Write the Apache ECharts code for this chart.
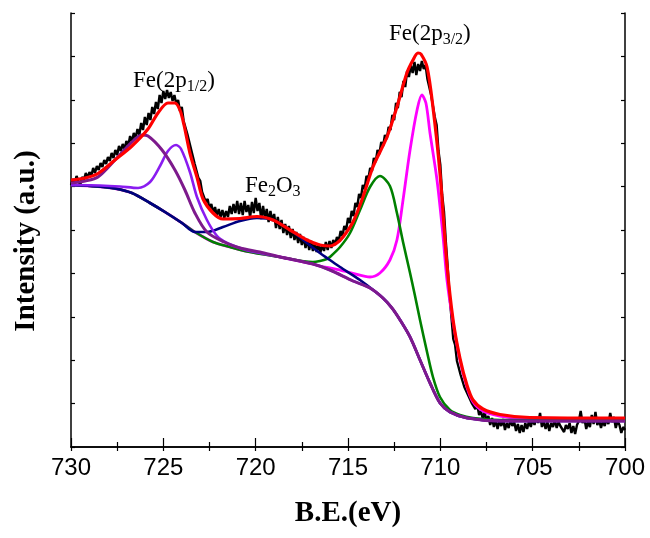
<!DOCTYPE html>
<html><head><meta charset="utf-8">
<script src="https://cdn.jsdelivr.net/npm/echarts/dist/echarts.min.js"></script>
<style>html,body{margin:0;padding:0;background:#fff}#c{width:650px;height:538px}</style>
</head><body><div id="c"></div>
<script>
// Binding energy (eV) vs intensity (a.u.)
const xTickLabels = [730, 725, 720, 715, 710, 705, 700];

// Shirley background
const background = [[730,262],[728.54,260.5],[727.62,258.5],[726.70,254],[725.72,244],[724.91,235],[723.99,224],[723.29,215],[722.31,205],[721.39,200],[720.47,195.5],[718.68,190],[716.90,183],[715.98,177],[714.73,166],[713.81,159],[713.11,149],[712.62,139],[712.18,127],[711.64,110],[711.10,87],[710.56,64],[710.02,44],[709.48,35],[708.56,29],[706.77,26],[700,26]];

// Fe 2p1/2 component 1 (purple)
const p12a = [[730,264],[729.24,266],[728.54,270],[727.62,287],[726.70,305],[726.16,312],[725.83,311],[725.07,297],[724.37,277],[723.83,257],[723.29,234],[722.64,215],[721.71,205],[720.85,199],[719.77,195]];
// Fe 2p1/2 component 2 (violet)
const p12b = [[730,262],[728.43,261.5],[727.35,260.5],[726.37,259],[725.72,265],[725.18,281],[724.75,296],[724.31,302],[724.04,298],[723.56,275],[723.18,250],[722.64,227],[722.09,211],[721.55,204],[721.01,200],[720.31,196]];
// Fe2O3 satellite (navy)
const sat = [[723.29,215],[722.64,215],[721.77,220],[720.85,226],[719.93,229],[719.06,227],[718.14,217],[717.22,204],[716.52,194],[715.98,187],[715.43,180],[714.35,167],[713.11,149]];
// Fe 2p3/2 component 2 (green)
const p32b = [[716.90,185],[716.52,186],[716.14,188],[715.98,190],[715.43,200],[714.89,214],[714.35,237],[713.81,260],[713.27,271],[712.73,261],[712.35,234],[712.02,205],[711.64,174],[711.37,151],[711.10,127],[710.72,95],[710.40,70],[710.02,50],[709.48,37],[708.94,32],[708.23,29],[706.77,27],[700,27]];
// Fe 2p3/2 component 1 (magenta)
const p32a = [[716.52,181],[715.61,177.7],[714.73,173.7],[713.81,170],[713.27,174],[712.73,187],[712.35,207],[712.02,247],[711.64,297],[711.26,337],[711.00,352],[710.78,344],[710.56,314],[710.18,267],[709.86,212],[709.64,167],[709.31,125],[708.94,87],[708.56,60],[708.23,45],[707.69,36],[706.77,31],[705.69,29],[700,28.5]];
// Fitted envelope (red)
const envelope = [[730,267],[729.24,269],[728.54,273.5],[727.62,287],[726.70,301],[725.83,318],[725.29,334],[724.75,344],[724.37,344],[724.10,337],[723.88,322],[723.56,294],[723.18,270],[722.85,248],[722.31,234],[721.77,228],[720.85,228.5],[719.93,230.5],[719.06,227],[718.14,217],[717.22,207],[716.52,202],[715.98,201],[715.60,204],[715.27,210],[714.73,225],[714.19,250],[713.65,280],[712.89,310],[712.35,340],[711.81,374],[711.48,387],[711.21,394],[711.05,393],[710.72,380],[710.40,340],[710.02,274],[709.64,182],[709.31,127],[708.94,89],[708.56,62],[708.23,47],[707.69,38],[706.77,32.5],[705.15,29.5],[700,29]];
// Measured spectrum (black)
const measured = [[730.0,262],[729.9,268],[729.8,264],[729.7,271],[729.6,266],[729.5,262],[729.4,270],[729.3,267],[729.2,274],[729.1,269],[729.0,275],[728.9,271],[728.8,279],[728.7,274],[728.6,281],[728.5,277],[728.4,284],[728.3,280],[728.2,287],[728.1,283],[728.0,290],[727.9,286],[727.8,294],[727.7,289],[727.6,297],[727.5,292],[727.4,301],[727.3,296],[727.2,303],[727.1,298],[727.0,306],[726.9,301],[726.8,311],[726.7,305],[726.6,314],[726.5,309],[726.4,318],[726.3,312],[726.2,324],[726.1,317],[726.0,330],[725.9,322],[725.8,334],[725.7,327],[725.6,340],[725.5,333],[725.4,345],[725.3,338],[725.2,352],[725.1,344],[725.0,356],[724.9,348],[724.8,357],[724.7,349],[724.6,355],[724.5,346],[724.4,352],[724.3,343],[724.2,347],[724.1,336],[724.0,340],[723.9,326],[723.8,328],[723.7,313],[723.6,312],[723.5,298],[723.4,296],[723.3,283],[723.2,282],[723.1,269],[723.0,266],[722.9,255],[722.8,254],[722.7,245],[722.6,248],[722.5,238],[722.4,243],[722.3,234],[722.2,240],[722.1,231],[722.0,238],[721.9,230],[721.8,237],[721.7,229],[721.6,236],[721.5,230],[721.4,241],[721.3,233],[721.2,243],[721.1,234],[721.0,246],[720.9,233],[720.8,244],[720.7,232],[720.6,246],[720.5,235],[720.4,242],[720.3,230],[720.2,245],[720.1,234],[720.0,249],[719.9,236],[719.8,244],[719.7,228],[719.6,241],[719.5,229],[719.4,238],[719.3,225],[719.2,236],[719.1,226],[719.0,233],[718.9,219],[718.8,230],[718.7,218],[718.6,227],[718.5,214],[718.4,223],[718.3,212],[718.2,221],[718.1,209],[718.0,218],[717.9,207],[717.8,215],[717.7,204],[717.6,213],[717.5,202],[717.4,210],[717.3,199],[717.2,208],[717.1,197],[717.0,206],[716.9,196],[716.8,204],[716.7,195],[716.6,203],[716.5,194],[716.4,202],[716.3,196],[716.2,205],[716.1,197],[716.0,206],[715.9,199],[715.8,207],[715.7,202],[715.6,210],[715.5,206],[715.4,216],[715.3,211],[715.2,221],[715.1,217],[715.0,229],[714.9,224],[714.8,236],[714.7,231],[714.6,244],[714.5,240],[714.4,253],[714.3,249],[714.2,262],[714.1,258],[714.0,271],[713.9,268],[713.8,279],[713.7,276],[713.6,289],[713.5,285],[713.4,297],[713.3,293],[713.2,305],[713.1,301],[713.0,312],[712.9,308],[712.8,320],[712.7,317],[712.6,332],[712.5,327],[712.4,344],[712.3,339],[712.2,355],[712.1,350],[712.0,366],[711.9,360],[711.8,376],[711.7,370],[711.6,382],[711.5,374],[711.4,385],[711.3,372],[711.2,383],[711.1,376],[711.0,386],[710.9,378],[710.8,382],[710.7,368],[710.6,370],[710.5,352],[710.4,350],[710.3,330],[710.2,322],[710.1,296],[710.0,282],[709.9,252],[709.8,235],[709.7,205],[709.6,180],[709.5,150],[709.4,130],[709.3,108],[709.2,102],[709.1,86],[709.0,84],[708.9,72],[708.8,74],[708.7,60],[708.6,62],[708.5,52],[708.4,54],[708.3,44],[708.2,46],[708.1,38],[708.0,42],[707.9,32],[707.8,36],[707.7,28],[707.6,35],[707.5,26],[707.4,31],[707.3,22],[707.2,29],[707.1,20],[707.0,27],[706.9,18],[706.8,26],[706.7,21],[706.6,28],[706.5,17],[706.4,24],[706.3,19],[706.2,27],[706.1,21],[706.0,25],[705.9,16],[705.8,23],[705.7,14],[705.6,22],[705.5,15],[705.4,24],[705.3,18],[705.2,26],[705.1,20],[705.0,28],[704.9,22],[704.8,30],[704.7,24],[704.6,34],[704.5,20],[704.4,26],[704.3,18],[704.2,25],[704.1,16],[704.0,24],[703.9,20],[703.8,27],[703.7,19],[703.6,25],[703.5,21],[703.4,23],[703.3,15],[703.2,22],[703.1,18],[703.0,24],[702.9,14],[702.8,21],[702.7,13],[702.6,22],[702.5,26],[702.4,36],[702.3,24],[702.2,29],[702.1,18],[702.0,25],[701.9,20],[701.8,32],[701.7,23],[701.6,35],[701.5,22],[701.4,27],[701.3,19],[701.2,26],[701.1,21],[701.0,28],[700.9,23],[700.8,34],[700.7,25],[700.6,30],[700.5,19],[700.4,26],[700.3,22],[700.2,14],[700.1,20],[700.0,17]];

function withBackground(comp) {
  const hi = comp[0][0], lo = comp[comp.length - 1][0];
  return background.filter(p => p[0] > hi || p[0] < lo).concat(comp).sort((a, b) => b[0] - a[0]);
}

const chart = echarts.init(document.getElementById('c'), null, {renderer: 'canvas'});
const axisCommon = {type: 'value', min: 700, max: 730, inverse: true, interval: 5,
  axisLine: {lineStyle: {color: '#000', width: 1.5}}, splitLine: {show: false}};
function compSeries(name, data, color, width) {
  return {name, type: 'line', data, showSymbol: false, smooth: 0.3, lineStyle: {color, width}, itemStyle: {color}, animation: false, z: 3};
}
chart.setOption({
  animation: false,
  grid: {left: 71, right: 25, top: 13, bottom: 91},
  xAxis: [
    Object.assign({}, axisCommon, {position: 'bottom',
      axisTick: {inside: true, length: 9, lineStyle: {color: '#000', width: 1.2}},
      minorTick: {show: true, splitNumber: 2, length: 5, lineStyle: {color: '#000', width: 1.2}},
      axisLabel: {margin: 9, color: '#000', fontSize: 24, fontFamily: 'Liberation Sans', formatter: v => xTickLabels.includes(v) ? String(v) : ''}}),
    Object.assign({}, axisCommon, {position: 'top',
      axisTick: {inside: true, length: 4, lineStyle: {color: '#000', width: 1.2}},
      minorTick: {show: true, splitNumber: 2, length: 4, lineStyle: {color: '#000', width: 1.2}},
      axisLabel: {show: false}})
  ],
  yAxis: [
    {type: 'value', min: 0, max: 434, interval: 43.4, position: 'left',
     axisLine: {show: true, lineStyle: {color: '#000', width: 1.5}},
     axisTick: {show: true, inside: true, length: 4, lineStyle: {color: '#000', width: 1.2}},
     axisLabel: {show: false}, splitLine: {show: false}},
    {type: 'value', min: 0, max: 434, interval: 43.4, position: 'right',
     axisLine: {show: true, lineStyle: {color: '#000', width: 1.5}},
     axisTick: {show: true, inside: true, length: 4, lineStyle: {color: '#000', width: 1.2}},
     axisLabel: {show: false}, splitLine: {show: false}}
  ],
  series: [
    {name: 'Measured', type: 'line', data: measured, showSymbol: false, smooth: false, lineStyle: {color: '#000', width: 2.4}, itemStyle: {color: '#000'}, z: 2},
    compSeries('Fe 2p3/2 (1)', withBackground(p32a), '#FF00FF', 2.8),
    compSeries('Fe 2p3/2 (2)', withBackground(p32b), '#008000', 2.6),
    compSeries('Fe2O3 satellite', withBackground(sat), '#000080', 2.6),
    compSeries('Fe 2p1/2 (2)', withBackground(p12b), '#8A1CF0', 2.6),
    compSeries('Fe 2p1/2 (1)', withBackground(p12a), '#7D1A8C', 3),
    Object.assign(compSeries('Envelope', envelope, '#FF0000', 3.2), {z: 4})
  ]
});

const serif = 'Liberation Serif';
const rich = {
  m: {fontSize: 23, lineHeight: 28, fontFamily: serif, color: '#000', verticalAlign: 'middle'},
  s: {fontSize: 16, lineHeight: 11, fontFamily: serif, color: '#000', verticalAlign: 'bottom'}
};
const annotations = [
  {text: '{m|Fe(2p}{s|1/2}{m|)}', at: [726.64, 380]},
  {text: '{m|Fe(2p}{s|3/2}{m|)}', at: [712.78, 427]},
  {text: '{m|Fe}{s|2}{m|O}{s|3}', at: [720.58, 275]}
];
const gridRect = {left: 71, top: 13, width: 554, height: 434};
const graphics = annotations.map(a => {
  const p = chart.convertToPixel({xAxisIndex: 0, yAxisIndex: 0}, a.at);
  return {type: 'text', x: p[0], y: p[1], style: {text: a.text, rich, align: 'left', verticalAlign: 'top'}};
});
graphics.push({type: 'text', x: gridRect.left + gridRect.width / 2, y: 514,
  style: {text: 'B.E.(eV)', fontSize: 29, fontWeight: 'bold', fontFamily: serif, fill: '#000', align: 'center', verticalAlign: 'middle'}});
graphics.push({type: 'text', x: 27, y: 241, rotation: Math.PI / 2,
  style: {text: 'Intensity (a.u.)', fontSize: 29, fontWeight: 'bold', fontFamily: serif, fill: '#000', align: 'center', verticalAlign: 'middle'}});
chart.setOption({graphic: graphics});
</script></body></html>
